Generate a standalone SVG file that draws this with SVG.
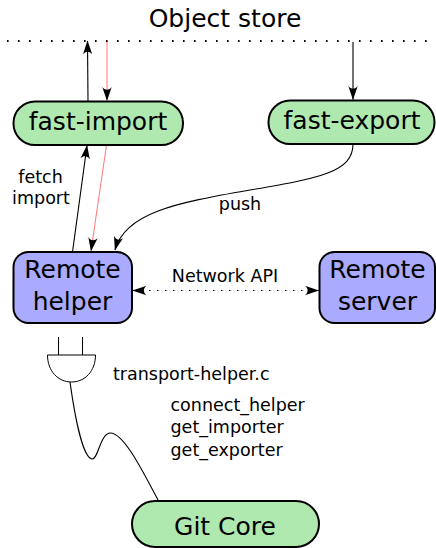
<svg xmlns="http://www.w3.org/2000/svg" width="436" height="548" viewBox="0 0 436 548">
<defs>
<style>
text{font-family:"DejaVu Sans","Liberation Sans",sans-serif;fill:#000}
.big{font-size:25px;text-anchor:middle}
.sm{font-size:17.5px}
.green{fill:#afe9af;stroke:#000;stroke-width:2}
.blue{fill:#aaaaff;stroke:#000;stroke-width:2}
.ln{fill:none;stroke:#000;stroke-width:1.1}
.red{fill:none;stroke:#ff8080;stroke-width:1.1}
</style>
<marker id="ah" markerUnits="userSpaceOnUse" markerWidth="14" markerHeight="10" viewBox="0 0 14 10" refX="13.5" refY="5" orient="auto-start-reverse">
<path d="M14,5 L0,0.3 C3.5,3 3.5,7 0,9.7 Z" fill="#000"/>
</marker>
</defs>
<g id="object-store">
<text class="big" x="225" y="27">Object store</text>
<line x1="7" y1="41" x2="432" y2="41" stroke="#000" stroke-width="2" stroke-dasharray="1.6,9.4" stroke-linecap="butt"/>
</g>
<g id="connectors">
<path class="ln" d="M88,101 L87.5,41" marker-end="url(#ah)"/>
<path class="red" d="M107,42 L107,100.5" marker-end="url(#ah)"/>
<path class="ln" d="M353,42 L353,99.5" marker-end="url(#ah)"/>
<path class="ln" d="M72.5,252 L87,145.5" marker-end="url(#ah)"/>
<path class="red" d="M106.5,145 L91,251" marker-end="url(#ah)"/>
<path class="ln" d="M353,144 C353,172 320,178 250,190 C175,203 125,213 115,250" marker-end="url(#ah)"/>
<path class="ln" d="M133,290.5 L318.5,290.5" stroke-dasharray="1.5,6.5" marker-start="url(#ah)" marker-end="url(#ah)"/>
<path class="ln" d="M70,382 C76,425 84,458 92,459 C98,460 100,434 110,433 C124,432 145,476 158,500"/>
</g>
<g id="fast-import">
<rect class="green" x="13.5" y="101.5" width="169.5" height="43.5" rx="21.5"/>
<text class="big" x="98" y="130">fast-import</text>
</g>
<g id="fast-export">
<rect class="green" x="268.5" y="100.5" width="166" height="43.5" rx="21.5"/>
<text class="big" x="352" y="129">fast-export</text>
</g>
<g id="labels">
<text class="sm" x="40.5" y="183" text-anchor="middle">fetch</text>
<text class="sm" x="41" y="204" text-anchor="middle">import</text>
<text class="sm" x="240" y="210" text-anchor="middle">push</text>
<text class="sm" x="225" y="282" text-anchor="middle">Network API</text>
<text class="sm" x="113" y="380">transport-helper.c</text>
<text class="sm" x="170.5" y="411">connect_helper</text>
<text class="sm" x="170.5" y="433">get_importer</text>
<text class="sm" x="170.5" y="455.5">get_exporter</text>
</g>
<g id="remote-helper">
<rect class="blue" x="13.5" y="252" width="118.5" height="71" rx="15"/>
<text class="big" x="72.5" y="278">Remote</text>
<text class="big" x="72.5" y="310">helper</text>
</g>
<g id="remote-server">
<rect class="blue" x="319.5" y="252" width="115.5" height="71" rx="15"/>
<text class="big" x="377.5" y="278">Remote</text>
<text class="big" x="377.5" y="310">server</text>
</g>
<g id="plug">
<line x1="58.5" y1="337" x2="58.5" y2="355" stroke="#000" stroke-width="1"/>
<line x1="82.5" y1="337" x2="82.5" y2="355" stroke="#000" stroke-width="1"/>
<path d="M47.5,355 L95.5,355 C95.5,371 85,382 71.5,382 C58,382 47.5,371 47.5,355 Z" fill="#fff" stroke="#000" stroke-width="1"/>
</g>
<g id="git-core">
<rect class="green" x="132" y="501" width="187" height="46" rx="23"/>
<text class="big" x="225" y="535">Git Core</text>
</g>
</svg>
